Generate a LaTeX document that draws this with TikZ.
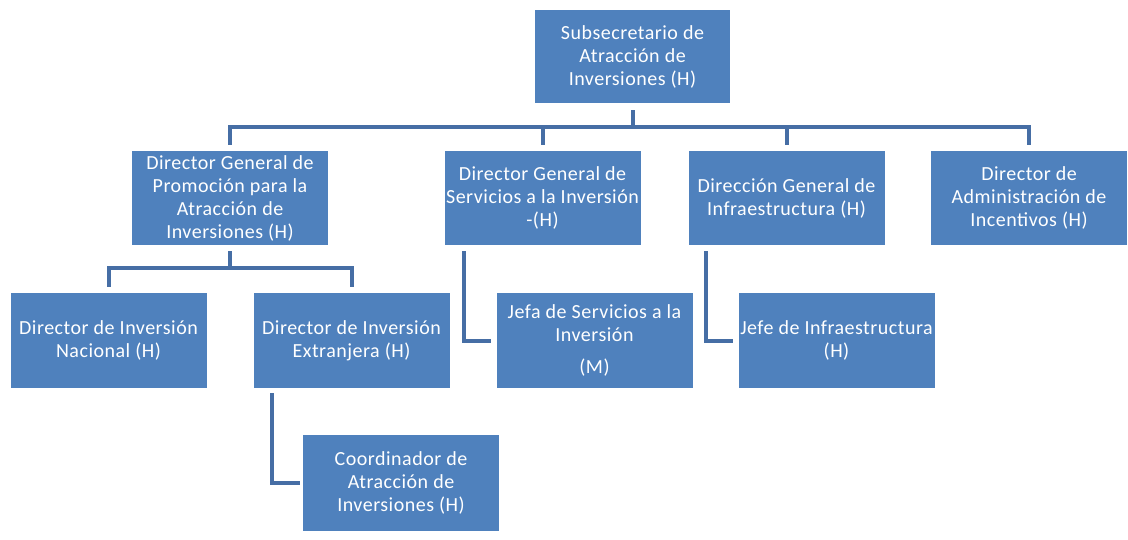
\documentclass[tikz,border=0pt]{standalone}
\usepackage{fontspec}
\setmainfont[LetterSpace=2.5]{Carlito}
\definecolor{boxblue}{RGB}{79,129,189}
\definecolor{linkblue}{RGB}{70,110,165}
\begin{document}
\begin{tikzpicture}[x=1pt,y=-1pt,
  box/.style={fill=boxblue,draw=none,text=white,align=center,inner sep=0pt,
    minimum width=196pt,minimum height=94pt,font=\fontsize{20}{23}\selectfont},
  conn/.style={draw=linkblue,line width=4pt,line join=miter}]
\useasboundingbox (0,0) rectangle (1128,539);
% nodes
\node[box,minimum width=195pt,minimum height=93pt] (top) at (632.5,56.5) {Subsecretario de\\Atracción de\\Inversiones (H)};
\node[box] (a) at (230,198) {Director General de\\Promoción para la\\Atracción de\\Inversiones (H)};
\node[box] (b) at (542.5,198) {Director General de\\Servicios a la Inversión\\-(H)};
\node[box] (c) at (786.5,198) {Dirección General de\\Infraestructura (H)};
\node[box] (d) at (1029,198) {Director de\\Administración de\\Incentivos (H)};
\node[box,minimum height=95pt] (nac) at (108.5,340.5) {Director de Inversión\\Nacional (H)};
\node[box,minimum height=95pt] (ext) at (351.5,340.5) {Director de Inversión\\Extranjera (H)};
\node[box,minimum height=95pt] (jefa) at (594.5,340.5) {Jefa de Servicios a la\\Inversión\\[9pt](M)};
\node[box,minimum height=95pt] (infra) at (836.5,340.5) {Jefe de Infraestructura\\(H)};
\node[box,minimum height=96pt] (coord) at (401,483) {Coordinador de\\Atracción de\\Inversiones (H)};
% buses
\coordinate (bus) at (0,127);
\coordinate (bus2) at (0,268);
\draw[conn] ([yshift=-7pt]top.south) -- (top.south |- bus);
\draw[conn] ([yshift=6pt]a.north) -- (a.north |- bus) -- (d.north |- bus) -- ([yshift=6pt]d.north);
\draw[conn] ([yshift=6pt]b.north) -- (b.north |- bus);
\draw[conn] ([yshift=6pt]c.north) -- (c.north |- bus);
\draw[conn] ([yshift=-6pt]a.south) -- (a.south |- bus2);
\draw[conn] ([yshift=6pt]nac.north) -- (nac.north |- bus2) -- (ext.north |- bus2) -- ([yshift=6pt]ext.north);
% side links
\draw[conn] ([xshift=20pt,yshift=-6pt]b.south west) |- ([xshift=-5pt]jefa.west);
\draw[conn] ([xshift=18pt,yshift=-6pt]c.south west) |- ([xshift=-5pt]infra.west);
\draw[conn] ([xshift=18.5pt,yshift=-5pt]ext.south west) |- ([xshift=-3pt]coord.west);
\end{tikzpicture}
\end{document}
